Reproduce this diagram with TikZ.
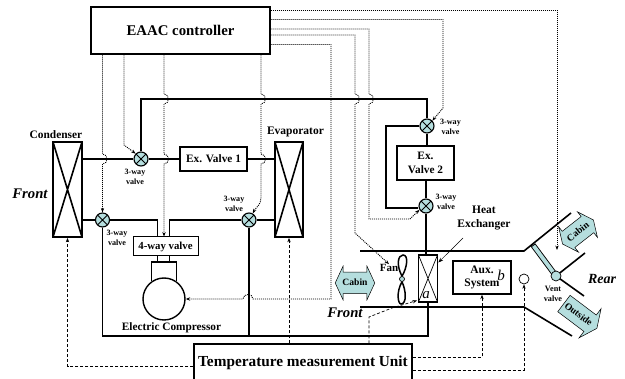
\documentclass[tikz,border=0pt]{standalone}
\usepackage{fontspec}
\setmainfont{Liberation Serif}
\usepackage{xcolor}
\usepackage{tikz}
\usetikzlibrary{arrows.meta,shapes.arrows}
\definecolor{valveblue}{HTML}{B5DEDE}
\tikzset{
  lab/.style 2 args={font=\fontsize{#1}{#2}\selectfont\bfseries,inner sep=0pt,align=center},
  itlab/.style={font=\fontsize{#1}{#1}\selectfont\bfseries\itshape,inner sep=0pt},
  varlab/.style={font=\fontsize{#1}{#1}\selectfont\itshape,inner sep=0pt},
  box/.style={draw,line width=1.4pt,fill=white,inner sep=0pt,align=center},
  xbox/.style={draw,line width=1.7pt,inner sep=0pt,path picture={
    \draw[line width=#1] (path picture bounding box.north west)--(path picture bounding box.south east)
      (path picture bounding box.north east)--(path picture bounding box.south west);}},
  valve/.style={circle,draw,line width=1.1pt,fill=valveblue,minimum size=14pt,inner sep=0pt,path picture={
    \draw[line width=0.9pt] (path picture bounding box.north west)--(path picture bounding box.south east)
      (path picture bounding box.north east)--(path picture bounding box.south west);}},
  pipe/.style={line width=1.5pt},
  ctl/.style={line width=0.9pt,dash pattern=on 1pt off 1pt,-{Stealth[length=4.5pt]}},
  tmp/.style={line width=0.7pt,dash pattern=on 3pt off 2pt,-{Stealth[length=4.5pt]}},
  flow/.style={draw,line width=0.5pt,fill=valveblue,inner sep=0pt,text height=7pt,text depth=1pt}
}
% dotted lines stepping over a pipe
\newcommand{\hopdown}[2]{-- (#1,#2-5) .. controls (#1+6,#2-5) and (#1+6,#2+5) .. (#1,#2+5)}
\newcommand{\hopleft}[2]{-- (#1+5,#2) .. controls (#1+5,#2-6) and (#1-5,#2-6) .. (#1-5,#2)}
\begin{document}
\begin{tikzpicture}[x=1pt,y=-1pt]
    \useasboundingbox (0,0) rectangle (625,379);
    % main units
    \node[box,lab={14.8}{17},line width=1.4pt,minimum width=179pt,minimum height=47pt] (ctrl) at (180.5,30.5) {EAAC controller};
    \node[box,lab={15.3}{18},line width=1.4pt,minimum width=218pt,minimum height=38pt] (tmu) at (303,363) {Temperature measurement Unit};
    \node[xbox=1.6pt,minimum width=29pt,minimum height=95pt] (cond) at (67.5,189.5) {};
    \node[xbox=1.6pt,minimum width=28pt,minimum height=95pt] (evap) at (289,189.5) {};
    \node[xbox=0.7pt,minimum width=19pt,minimum height=47pt] (hx) at (428,278.5) {};
    \node[box,lab={11.3}{14},line width=1.4pt,minimum width=67pt,minimum height=24pt] (exone) at (213.5,159) {Ex. Valve 1};
    \node[box,lab={11.3}{14},line width=1.4pt,minimum width=57pt,minimum height=34pt] (extwo) at (425.5,163) {Ex.\\Valve 2};
    \node[box,lab={10.8}{14},line width=1pt,minimum width=65pt,minimum height=19pt] (fourway) at (165.5,246.5) {4-way valve};
    \node[box,lab={11.5}{13},line width=1.4pt,minimum width=58pt,minimum height=33pt] (aux) at (482,277.5) {Aux.\\System};
    \node[circle,draw,line width=1.4pt,minimum size=42pt,inner sep=0pt] (comp) at (164,299) {};
    \foreach \nm/\x/\y in {vlvone/141/159,vlvtwo/102.5/220,vlvthree/249/220,vlvfour/427/126,vlvfive/426/206}{
      \node[valve] (\nm) at (\x,\y) {};
    }
    \foreach \x/\y in {135/176.5,117/237.5,234/204,450.5/126.5,446/202}{
      \node[lab={8.1}{10}] at (\x,\y) {3-way\\valve};
    }
    % labels
    \node[lab={11.4}{14}] (condlab) at (56,135) {Condenser};
    \node[lab={11.5}{14}] (evaplab) at (295.5,132) {Evaporator};
    \node[lab={11.3}{14}] (complab) at (171.5,328) {Electric Compressor};
    \node[lab={11.5}{14}] (hxlab) at (484,218) {Heat\\Exchanger};
    \node[lab={11}{13}] (fanlab) at (389,268) {Fan};
    \node[lab={8.2}{10}] (ventlab) at (553,294) {Vent\\valve};
    \node[itlab=14.7] (frontl) at (30,194) {Front};
    \node[itlab=14.7] (frontr) at (345,313) {Front};
    \node[itlab=14] (rear) at (602,279) {Rear};
    \node[varlab=15] (vara) at (426,295) {a};
    \node[varlab=15] (varb) at (501,275) {b};
    % air ducts
    \draw[line width=1.6pt] (360,251)--(524,251)--(571,213);
    \draw[line width=1.6pt] (360,307)--(524,307)--(572,336);
    \draw[line width=1.6pt] (585,253)--(556,276)--(584,296);
    \draw[line width=5.6pt] (533,245)--(556,276);
    \draw[line width=3.8pt,valveblue] (533.6,245.8)--(556,276);
    \node[circle,draw,line width=0.7pt,fill=valveblue,minimum size=10pt,inner sep=0pt] (vent) at (556,276) {};
    \node[circle,draw,line width=0.7pt,minimum size=10pt,inner sep=0pt] (sensor) at (524,279) {};
    \node[flow,lab={9.6}{11},double arrow,draw,double arrow head extend=6pt,double arrow tip angle=130,minimum height=38pt,inner xsep=2pt,inner ysep=6.5pt] (cabinl) at (355,283) {Cabin};
    \node[flow,lab={9.6}{11},double arrow,draw,double arrow head extend=6pt,double arrow tip angle=130,minimum height=38pt,inner xsep=2pt,inner ysep=6pt,rotate=38] (cabinr) at (578,232) {Cabin};
    \node[flow,lab={9.6}{11},single arrow,draw,single arrow head extend=8pt,single arrow tip angle=130,minimum height=40pt,inner xsep=2pt,inner ysep=6pt,rotate=-37] (outside) at (578.5,314.5) {Outside};
    % fan
    \node[circle,draw,line width=0.7pt,fill=valveblue,minimum size=5pt,inner sep=0pt] (fan) at (402,279) {};
    \draw[pipe] (fan.north) .. controls (396,265) and (398,255) .. (403,255) .. controls (409,255) and (407,268) .. (fan.north);
    \draw[pipe] (fan.south) .. controls (396,292) and (398,304) .. (401,304) .. controls (407,304) and (406,290) .. (fan.south);
    % refrigerant pipes
    \coordinate (pipetop) at (0,99);
    \coordinate (pipebot) at (0,336);
    \draw[pipe] (cond.east |- vlvone)--(vlvone)--(exone);
    \draw[pipe] (exone)--(evap.west |- exone);
    \draw[pipe] (vlvone)--(vlvone |- pipetop)--(vlvfour |- pipetop)--(vlvfour);
    \draw[pipe] (vlvfour)--(extwo.north -| vlvfour);
    \draw[pipe] (vlvfour)-|(386,208)--(vlvfive.west |- 0,208);
    \draw[pipe] (extwo.south -| vlvfive)--(vlvfive)--(hx.north -| vlvfive);
    \draw[pipe] (cond.east |- vlvtwo)--(vlvtwo);
    \draw[pipe] (evap.west |- vlvthree)--(vlvthree);
    \draw[pipe] (vlvtwo)-|([xshift=-8pt]fourway.north);
    \draw[pipe] (vlvthree)-|([xshift=4pt]fourway.north);
    \draw[pipe] (vlvtwo)--(vlvtwo |- pipebot)-|(hx.south);
    \draw[pipe] (vlvthree)--(vlvthree |- pipebot);
    \draw[pipe] ([xshift=-8pt]fourway.south)--++(0,7);
    \draw[pipe] ([xshift=4pt]fourway.south)--++(0,7);
    \draw[pipe] (comp.125)--++(0,-19)-|(comp.55);
    % controller signals
    \draw[ctl] ([xshift=-78pt]ctrl.south) \hopdown{102.5}{159} -- (vlvtwo.north);
    \draw[ctl] ([xshift=-56.5pt]ctrl.south) -- (124,145) -- (vlvone.135);
    \draw[ctl] ([xshift=-16.5pt]ctrl.south) \hopdown{164}{99} \hopdown{164}{159} -- ([xshift=-1.5pt]fourway.north);
    \draw[ctl] ([xshift=80.5pt]ctrl.south) \hopdown{261}{99} \hopdown{261}{159} -- (261,198) .. controls (261,205) and (256,207) .. (vlvthree.60);
    \coordinate (ventend) at (557,250);
    \draw[ctl] ([yshift=20.5pt]ctrl.east) -| (ventend);
    \draw[ctl] ([yshift=11pt]ctrl.east) -- (443,19.5) -- (443,108) -- (vlvfour.45);
    \draw[ctl] ([yshift=1.5pt]ctrl.east) -- (369,29) \hopdown{369}{99} -- (369,219) -- (410,219) -- (vlvfive.210);
    \draw[ctl] ([yshift=-4.5pt]ctrl.east) -- (355,35) \hopdown{355}{99} -- (355,233) -- (fanlab.north);
    \draw[ctl] ([yshift=-14pt]ctrl.east) -- (331,44.5) -- (331,299) \hopleft{248}{299} -- (comp.east);
    % measurement signals
    \draw[tmp] ([yshift=-3pt]tmu.west) -| (cond.south);
    \draw[tmp] (tmu.north -| evap) -- (evap.south);
    \draw[tmp] ([xshift=66pt]tmu.north) -- (369,317) -- (392,308) -- (417,300.5);
    \draw[tmp] ([yshift=6pt]tmu.east) -| (aux.south);
    \draw[tmp] ([yshift=-7pt]tmu.east) -| (sensor.south);
    % pointer to the heat exchanger
    \coordinate (hxpoint) at (463,238);
    \draw[line width=0.5pt,-{Stealth[length=5pt]}] (hxpoint) -- ([yshift=16pt]hx.east);
  \end{tikzpicture}
\end{document}
